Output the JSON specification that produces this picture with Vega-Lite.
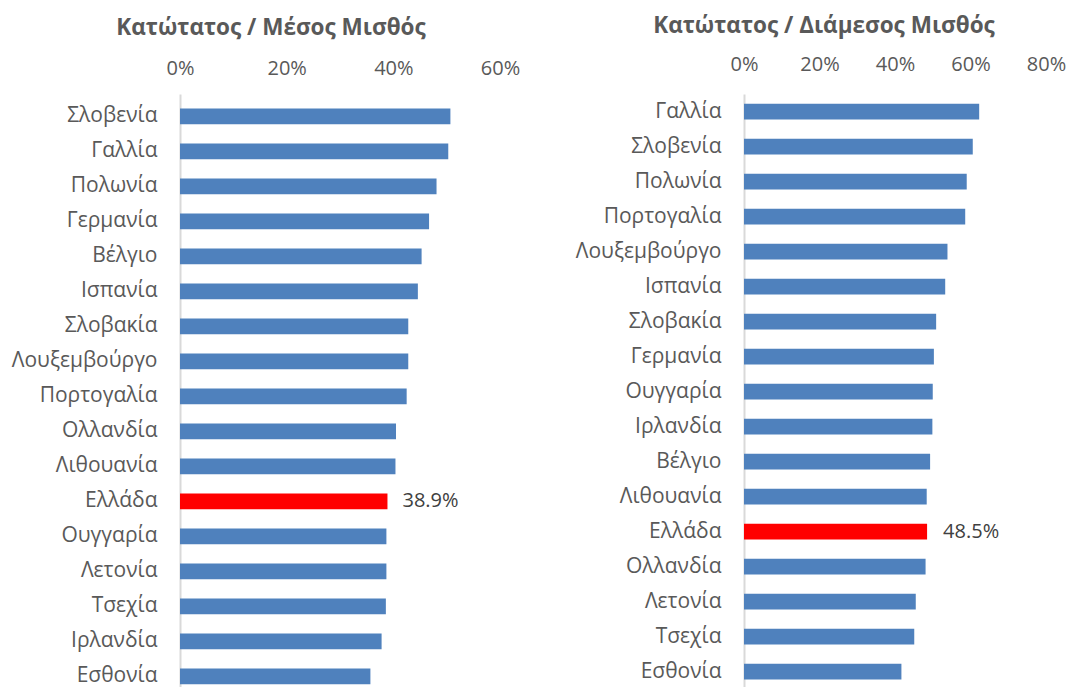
{
  "$schema": "https://vega.github.io/schema/vega-lite/v6.json",
  "background": "white",
  "padding": {"left": 11, "top": 14, "right": 0, "bottom": 0},
  "config": {
    "font": "Open Sans",
    "view": {"stroke": null},
    "axis": {"labelColor": "#595959", "labelFontSize": 20, "labelFont": "Open Sans", "grid": false, "ticks": false, "title": null, "labelFlush": false},
    "title": {"font": "Open Sans", "fontSize": 22.5, "fontWeight": "bold", "color": "#595959"}
  },
  "datasets": {
    "mean": [
      {"country": "Σλοβενία", "value": 0.507},
      {"country": "Γαλλία", "value": 0.503},
      {"country": "Πολωνία", "value": 0.481},
      {"country": "Γερμανία", "value": 0.467},
      {"country": "Βέλγιο", "value": 0.453},
      {"country": "Ισπανία", "value": 0.446},
      {"country": "Σλοβακία", "value": 0.428},
      {"country": "Λουξεμβούργο", "value": 0.428},
      {"country": "Πορτογαλία", "value": 0.425},
      {"country": "Ολλανδία", "value": 0.405},
      {"country": "Λιθουανία", "value": 0.404},
      {"country": "Ελλάδα", "value": 0.389},
      {"country": "Ουγγαρία", "value": 0.387},
      {"country": "Λετονία", "value": 0.387},
      {"country": "Τσεχία", "value": 0.386},
      {"country": "Ιρλανδία", "value": 0.378},
      {"country": "Εσθονία", "value": 0.357}
    ],
    "median": [
      {"country": "Γαλλία", "value": 0.623},
      {"country": "Σλοβενία", "value": 0.606},
      {"country": "Πολωνία", "value": 0.590},
      {"country": "Πορτογαλία", "value": 0.586},
      {"country": "Λουξεμβούργο", "value": 0.539},
      {"country": "Ισπανία", "value": 0.533},
      {"country": "Σλοβακία", "value": 0.509},
      {"country": "Γερμανία", "value": 0.503},
      {"country": "Ουγγαρία", "value": 0.500},
      {"country": "Ιρλανδία", "value": 0.499},
      {"country": "Βέλγιο", "value": 0.493},
      {"country": "Λιθουανία", "value": 0.484},
      {"country": "Ελλάδα", "value": 0.485},
      {"country": "Ολλανδία", "value": 0.481},
      {"country": "Λετονία", "value": 0.455},
      {"country": "Τσεχία", "value": 0.451},
      {"country": "Εσθονία", "value": 0.417}
    ]
  },
  "spacing": 55,
  "hconcat": [
    {
      "data": {"name": "mean"},
      "width": 320,
      "height": 600,
      "title": {"text": "Κατώτατος / Μέσος Μισθός", "anchor": "middle", "frame": "group", "dx": -69, "offset": 19},
      "encoding": {
        "y": {"field": "country", "type": "nominal", "sort": null,
              "scale": {"paddingInner": 0.55, "paddingOuter": 0.3464, "align": 0.603},
              "axis": {"domainColor": "#d9d9d9", "domainWidth": 2, "labelPadding": 23, "labelFontSize": 21}},
        "x": {"field": "value", "type": "quantitative",
              "scale": {"domain": [0, 0.6], "nice": false},
              "axis": {"orient": "top", "format": ".0%", "values": [0, 0.2, 0.4, 0.6], "domain": false, "labelPadding": 16}}
      },
      "layer": [
        {"mark": {"type": "bar"},
         "encoding": {"color": {"condition": {"test": "datum.country === 'Ελλάδα'", "value": "#ff0000"}, "value": "#4f81bd"}}},
        {"transform": [{"filter": "datum.country === 'Ελλάδα'"}],
         "mark": {"type": "text", "align": "left", "dx": 15, "fontSize": 20, "color": "#404040", "font": "Open Sans"},
         "encoding": {"text": {"field": "value", "type": "quantitative", "format": ".1%"}}}
      ]
    },
    {
      "data": {"name": "median"},
      "width": 302,
      "height": 595,
      "title": {"text": "Κατώτατος / Διάμεσος Μισθός", "anchor": "middle", "frame": "group", "dx": -71, "offset": 17},
      "encoding": {
        "y": {"field": "country", "type": "nominal", "sort": null,
              "scale": {"paddingInner": 0.55, "paddingOuter": 0.275},
              "axis": {"domainColor": "#d9d9d9", "domainWidth": 2, "labelPadding": 23, "labelFontSize": 21}},
        "x": {"field": "value", "type": "quantitative",
              "scale": {"domain": [0, 0.8], "nice": false},
              "axis": {"orient": "top", "format": ".0%", "values": [0, 0.2, 0.4, 0.6, 0.8], "domain": false, "labelPadding": 20}}
      },
      "layer": [
        {"mark": {"type": "bar"},
         "encoding": {"color": {"condition": {"test": "datum.country === 'Ελλάδα'", "value": "#ff0000"}, "value": "#4f81bd"}}},
        {"transform": [{"filter": "datum.country === 'Ελλάδα'"}],
         "mark": {"type": "text", "align": "left", "dx": 16, "fontSize": 20, "color": "#404040", "font": "Open Sans"},
         "encoding": {"text": {"field": "value", "type": "quantitative", "format": ".1%"}}}
      ]
    }
  ]
}
